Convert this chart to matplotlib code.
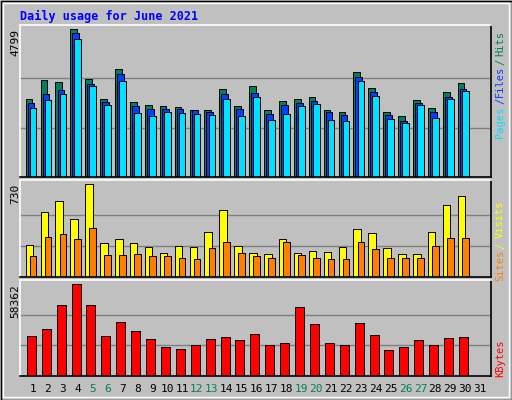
import matplotlib
matplotlib.use("Agg")
import matplotlib.pyplot as plt
import numpy as np

days = list(range(1, 32))
hits = [2519,3138,3073,4799,3170,2519,3496,2421,2323,2291,2258,2161,2161,2845,2291,2942,2161,2454,2519,2584,2161,2095,3398,2877,2095,1965,2486,2226,2747,3040]
files = [2389,2682,2812,4669,3007,2421,3333,2291,2193,2193,2193,2161,2095,2682,2193,2714,2030,2323,2389,2454,2095,1998,3235,2747,1998,1802,2389,2095,2584,2845]
pages = [2226,2486,2682,4473,2942,2323,3105,2063,1965,2095,2063,2030,1998,2519,1965,2584,1835,2030,2291,2356,1835,1802,3105,2617,1867,1737,2323,1900,2519,2779]
visits = [248,509,596,453,730,264,295,264,232,192,240,232,350,524,240,192,184,295,192,208,200,232,374,343,224,177,177,350,564,635]
sites = [161,311,335,295,382,169,169,184,161,161,153,145,224,271,192,161,153,271,169,153,145,145,271,216,153,153,153,240,303,303]
kbytes = [25773,30246,44943,58362,44943,25773,34719,28968,23856,18744,17466,20022,23856,25134,23217,27051,20022,21300,43665,33441,21300,20022,34080,26412,16827,18744,23217,20022,24495,25134]
weekends = [5, 6, 12, 13, 19, 20, 26, 27]

W, H = 512, 400
fig = plt.figure(figsize=(W/100, H/100), dpi=100, facecolor="#c0c0c0")
mono = "DejaVu Sans Mono"

def ax_at(x0, y0, x1, y1):
    a = fig.add_axes([x0/W, 1 - y1/H, (x1-x0)/W, (y1-y0)/H])
    a.set_facecolor("#c0c0c0")
    a.set_xlim(0.128, 31.74)
    a.set_xticks([]); a.set_yticks([])
    a.spines["top"].set_color("white"); a.spines["left"].set_color("white")
    a.spines["bottom"].set_color("black"); a.spines["right"].set_color("black")
    for s in a.spines.values(): s.set_linewidth(1.2)
    return a

fig.add_artist(plt.Rectangle((0.5/W, 0.5/H), 1 - 1/W, 1 - 1/H, transform=fig.transFigure, fill=False, ec="black", lw=1))
fig.add_artist(plt.Rectangle((3/W, 3/H), 1 - 6/W, 1 - 6/H, transform=fig.transFigure, fill=False, ec="white", lw=1))

x = np.arange(1, 31)
LW = 0.7

a1 = ax_at(20, 25, 491, 177)
mx = max(hits)
a1.set_ylim(0, mx * 151.4 / 147.4)
for g in (mx/3, 2*mx/3):
    a1.axhline(g, color="#808080", lw=1, zorder=0)
a1.bar(x - 0.27, hits, width=0.45, color="#00805c", ec="black", lw=LW)
a1.bar(x - 0.13, files, width=0.45, color="#0040ff", ec="black", lw=LW)
a1.bar(x + 0.01, pages, width=0.45, color="#00e0ff", ec="black", lw=LW)

a2 = ax_at(20, 180, 491, 277)
mx = max(visits)
a2.set_ylim(0, mx * 96.4 / 92.4)
for g in (mx/3, 2*mx/3):
    a2.axhline(g, color="#808080", lw=1, zorder=0)
a2.bar(x - 0.24, visits, width=0.5, color="#ffff00", ec="black", lw=LW)
a2.bar(x + 0.01, sites, width=0.45, color="#ff8000", ec="black", lw=LW)

a3 = ax_at(20, 280, 491, 376)
mx = max(kbytes)
a3.set_ylim(0, mx * 95.7 / 91.3)
for g in (mx/3, 2*mx/3):
    a3.axhline(g, color="#808080", lw=1, zorder=0)
a3.bar(x - 0.11, kbytes, width=0.6, color="#ff0000", ec="black", lw=LW)

def ft(xp, yp, s, **kw):
    fig.text(xp/W, 1 - yp/H, s, family=mono, **kw)

ft(20, 16, "Daily usage for June 2021", color="#0000ff", fontsize=8.5, weight="bold", va="center")
ft(15, 29, "%d" % max(hits), rotation=90, fontsize=8, ha="center", va="top")
ft(15, 184, "%d" % max(visits), rotation=90, fontsize=8, ha="center", va="top")
ft(15, 284, "%d" % max(kbytes), rotation=90, fontsize=8, ha="center", va="top")

rx = 500
for s, yp, c in [("Pages", 122, "#00e0ff"), ("/", 101, "#0040ff"), ("Files", 81, "#0040ff"),
                 ("/", 62, "#00805c"), ("Hits", 44, "#00805c"),
                 ("Sites", 265, "#ff8000"), ("/", 246, "#ffff00"), ("Visits", 219, "#ffff00"),
                 ("KBytes", 358, "#ff0000")]:
    ft(rx, yp, s, rotation=90, fontsize=7.5, color=c, ha="center", va="center")

for d in days:
    xp = 33 + (d - 1) * 14.9
    ft(xp, 389, str(d), fontsize=8, color="#00805c" if d in weekends else "black", ha="center", va="center")

fig.savefig("out.png", dpi=100, facecolor=fig.get_facecolor())
